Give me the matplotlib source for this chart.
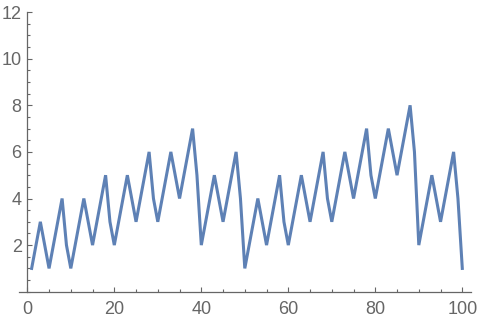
import matplotlib
matplotlib.use("Agg")
import matplotlib.pyplot as plt
from matplotlib.ticker import MultipleLocator

# values, one per integer n = 1..100
n = list(range(1, 101))
values = [
    1, 2, 3, 2, 1, 2, 3, 4, 2, 1,
    2, 3, 4, 3, 2, 3, 4, 5, 3, 2,
    3, 4, 5, 4, 3, 4, 5, 6, 4, 3,
    4, 5, 6, 5, 4, 5, 6, 7, 5, 2,
    3, 4, 5, 4, 3, 4, 5, 6, 4, 1,
    2, 3, 4, 3, 2, 3, 4, 5, 3, 2,
    3, 4, 5, 4, 3, 4, 5, 6, 4, 3,
    4, 5, 6, 5, 4, 5, 6, 7, 5, 4,
    5, 6, 7, 6, 5, 6, 7, 8, 6, 2,
    3, 4, 5, 4, 3, 4, 5, 6, 4, 1,
]
x_ticks = [0, 20, 40, 60, 80, 100]
y_ticks = [2, 4, 6, 8, 10, 12]

LINE = "#5E81B5"
AXIS = "#666666"

plt.rcParams["font.family"] = ["Liberation Sans", "DejaVu Sans"]

fig = plt.figure(figsize=(4.82, 3.24), dpi=100)
ax = fig.add_axes([18.6 / 482, 1 - 291.7 / 324, (471 - 18.6) / 482, (291.7 - 12.1) / 324])

ax.plot(n, values, color=LINE, linewidth=2.2, solid_joinstyle="miter")

ax.set_xlim(-2, 102)
ax.set_ylim(0, 12)

for s in ("top", "right"):
    ax.spines[s].set_visible(False)
ax.spines["left"].set_position(("data", 0))
ax.spines["bottom"].set_position(("data", 0))
for s in ("left", "bottom"):
    ax.spines[s].set_color(AXIS)
    ax.spines[s].set_linewidth(0.9)

ax.set_xticks(x_ticks)
ax.set_yticks(y_ticks)
ax.xaxis.set_minor_locator(MultipleLocator(5))
ax.yaxis.set_minor_locator(MultipleLocator(0.5))
ax.tick_params(which="both", direction="in", color=AXIS, width=0.8,
               labelcolor=AXIS, labelsize=13)
ax.tick_params(which="major", length=3.5)
ax.tick_params(which="minor", length=2)
ax.tick_params(axis="x", pad=7)
ax.tick_params(axis="y", pad=4)

fig.savefig("out.png", dpi=100, facecolor="white")
